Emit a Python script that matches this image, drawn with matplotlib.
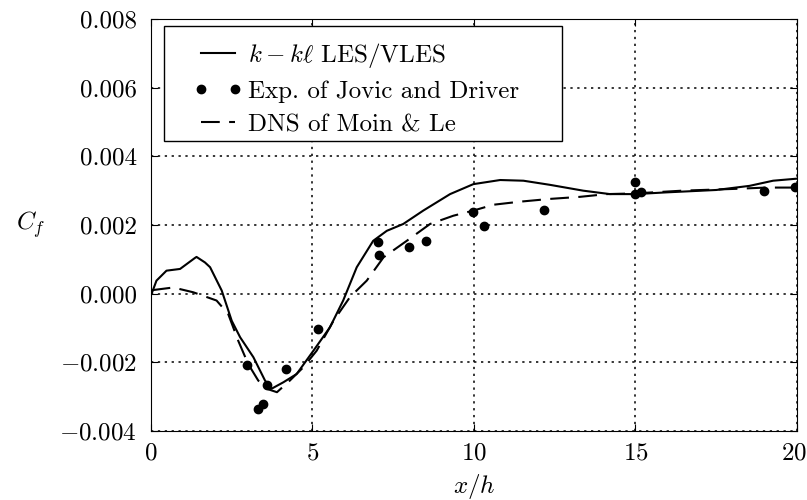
import numpy as np
from matplotlib import pyplot as plt
from matplotlib.legend_handler import HandlerLine2D
from matplotlib.patches import Rectangle
from matplotlib.transforms import ScaledTranslation

plt.rcParams['font.family'] = 'serif'
plt.rcParams['font.serif'] = ['cmr10', 'DejaVu Serif']
plt.rcParams['mathtext.fontset'] = 'cm'
plt.rcParams['axes.formatter.use_mathtext'] = True
plt.rcParams['font.size'] = 18

# k - kl LES/VLES
x_les = [0.02, 0.17, 0.48, 0.90, 1.36, 1.41, 1.67, 1.83, 2.19, 2.50, 2.76, 3.17, 3.53, 3.73,
         4.10, 4.51, 5.03, 5.54, 5.95, 6.37, 6.88, 7.30, 7.81, 8.43, 9.26, 9.98, 10.81,
         11.53, 12.35, 13.38, 14.21, 14.99, 15.95, 17.50, 18.53, 19.26, 20.0]
y_les = [0.0, 0.00038, 0.00067, 0.00072, 0.00104, 0.00107, 0.00091, 0.00077, 0.00009,
         -0.00079, -0.00127, -0.00185, -0.00253, -0.00277, -0.00258, -0.00234, -0.00166,
         -0.00098, -0.0002, 0.00077, 0.00154, 0.00183, 0.00203, 0.00242, 0.0029, 0.00319,
         0.00331, 0.00329, 0.00317, 0.0030, 0.0029, 0.0029, 0.00295, 0.00302, 0.00314,
         0.00329, 0.00335]

# DNS of Moin & Le
x_dns = [0.02, 0.69, 1.31, 2.03, 2.39, 2.70, 3.01, 3.32, 3.58, 3.90, 4.30, 4.71, 5.13, 5.65,
         6.16, 6.68, 7.20, 7.92, 8.64, 9.36, 9.98, 10.60, 11.43, 12.35, 13.28, 14.11, 14.99,
         16.45, 18.01, 19.04, 20.0]
y_dns = [0.0001, 0.00018, 0.00004, -0.0002, -0.00059, -0.00137, -0.00205, -0.00253,
         -0.00277, -0.00287, -0.00253, -0.00215, -0.00166, -0.00079, -0.0001, 0.00038,
         0.00106, 0.00154, 0.00203, 0.00227, 0.00242, 0.00259, 0.00268, 0.00276, 0.00282,
         0.0029, 0.00292, 0.0030, 0.00305, 0.00309, 0.00309]

# Exp. of Jovic and Driver
x_exp = [2.98, 3.32, 3.48, 3.58, 4.17, 5.16, 7.04, 7.07, 8.00, 8.51, 9.98, 10.31, 12.17,
         14.99, 14.99, 15.16, 18.97, 19.93]
y_exp = [-0.00207, -0.00336, -0.00321, -0.00265, -0.00219, -0.00103, 0.00151, 0.00114,
         0.00135, 0.00154, 0.00237, 0.00196, 0.00244, 0.00326, 0.0029, 0.00297, 0.0030,
         0.00311]

xticks = [0, 5, 10, 15, 20]
yticks = [-0.004, -0.002, 0.0, 0.002, 0.004, 0.006, 0.008]

fig = plt.figure(figsize=(8.07, 5.0), dpi=100)
ax = fig.add_axes([0.1871, 0.138, 0.8005, 0.824])

ax.plot(x_les, y_les, 'k-', lw=1.5, label=r'$k - k\ell$ LES/VLES')
ax.plot(x_exp, y_exp, 'ko', ms=6, ls='none', label='Exp. of Jovic and Driver')
ax.plot(x_dns, y_dns, 'k', lw=1.5, dashes=[9, 4.5], label='DNS of Moin & Le')

ax.set_xlim(0, 20)
ax.set_ylim(-0.004, 0.008)
ax.set_xticks(xticks)
ax.set_yticks(yticks)
ax.set_yticklabels(['$-0.004$', '$-0.002$', '0.000', '0.002', '0.004', '0.006', '0.008'])
ax.tick_params(direction='in', top=True, right=True, length=5)
ax.tick_params(axis='y', pad=10)
ax.tick_params(axis='x', pad=8)
ax.grid(True, color='k', ls=(0, (1.5, 3)), lw=1.1)

# keep the last x tick label inside the canvas
last = ax.get_xticklabels()[-1]
last.set_transform(last.get_transform() + ScaledTranslation(-3 / 100, 0, fig.dpi_scale_trans))

ax.set_xlabel(r'$x/h$', labelpad=5.5)
ax.set_ylabel(r'$C_f$', rotation=0, va='center', ha='center')
ax.yaxis.set_label_coords(-0.186, 0.5)

# legend frame drawn separately so it can be wider than its contents
ax.add_patch(Rectangle((0.02, 0.704), 0.616, 0.279, transform=ax.transAxes,
                       fc='white', ec='k', lw=1.0, zorder=4))

hmap = {h: HandlerLine2D(xpad=0.95, marker_pad=0.05) for h in ax.get_lines()}
leg = ax.legend(loc='upper left', bbox_to_anchor=(0.02, 0.978), numpoints=2,
                frameon=False, handlelength=2.4,
                handletextpad=0.45, borderpad=0.5, labelspacing=0.43,
                borderaxespad=0, handler_map=hmap)
leg.set_zorder(5)

plt.savefig('out.png', dpi=100)
